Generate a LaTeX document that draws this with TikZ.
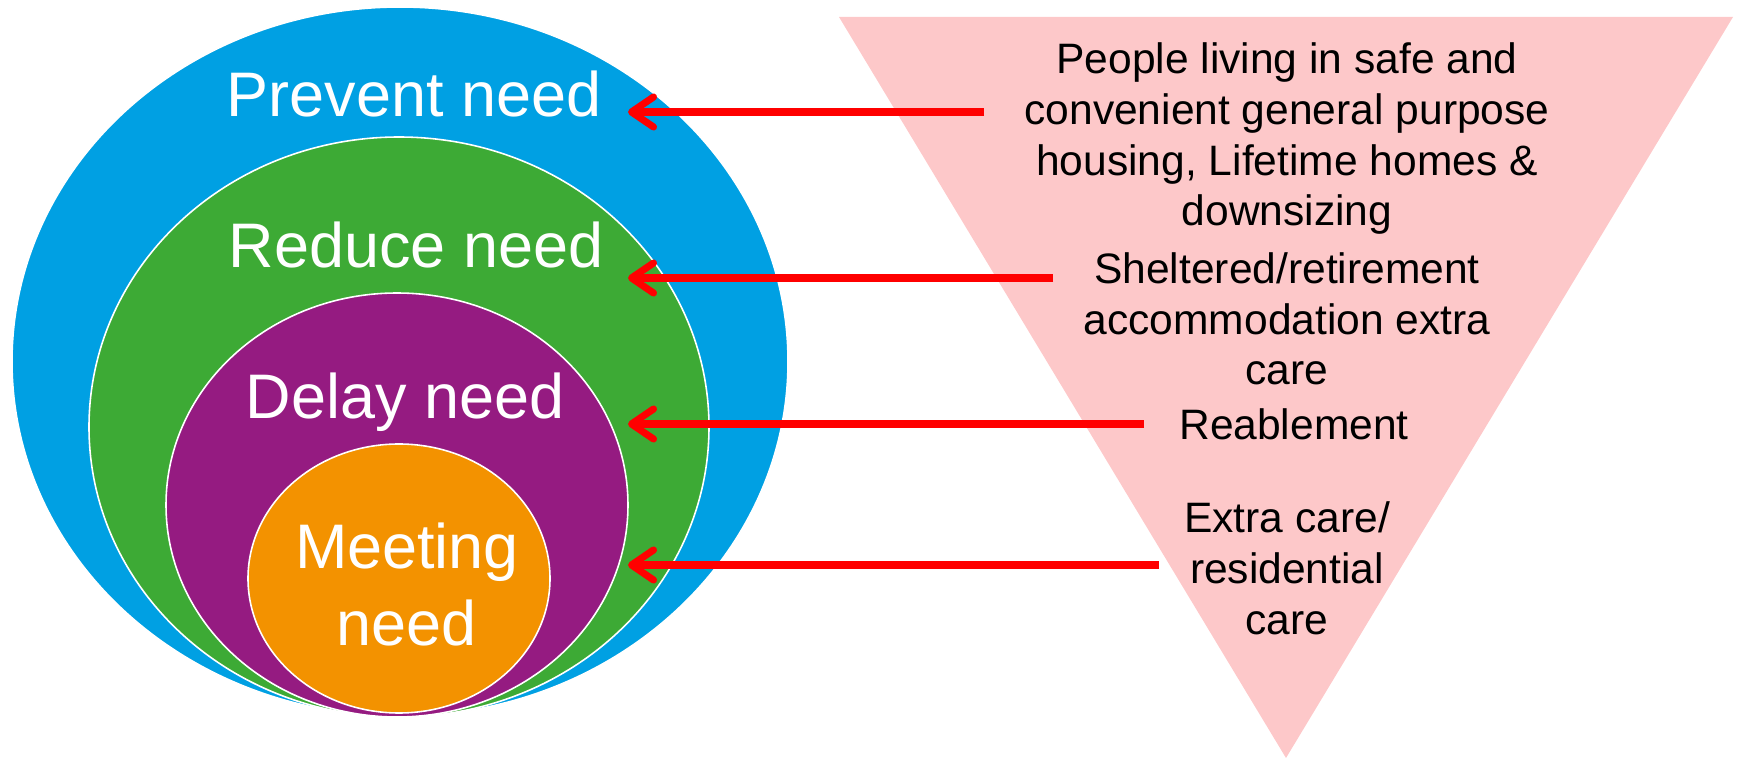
\documentclass[tikz,border=0pt]{standalone}
\usepackage{fontspec}
\setmainfont{Liberation Sans}
\usetikzlibrary{arrows.meta}

\definecolor{preventBlue}{RGB}{0,160,227}
\definecolor{reduceGreen}{RGB}{61,170,53}
\definecolor{delayPurple}{RGB}{149,27,129}
\definecolor{meetOrange}{RGB}{243,146,0}
\definecolor{funnelPink}{RGB}{253,200,201}

\newcommand{\tipX}{628}
\newcommand{\midX}{1287}

\begin{document}
\begin{tikzpicture}[x=0.01cm,y=0.01cm,
    ring/.style={draw=white,line width=0.45pt},
    ring_text/.style={inner sep=0,anchor=base,align=center,text=white,
      font=\fontsize{17.9}{21.9}\selectfont},
    care_text/.style={inner sep=0,anchor=base,align=center,
      font=\fontsize{12.1}{14.5}\selectfont},
    link/.style={red,line width=2pt,-{Straight Barb[round,length=0.22cm,width=0.3cm]}}]
    \useasboundingbox (0,0) rectangle (1738,760);

    \fill[funnelPink] (839,743) -- (1733,743) -- (1286,2) -- cycle;

    \filldraw[ring,fill=preventBlue] (400,398.5) ellipse (388 and 354.5);
    \filldraw[ring,fill=reduceGreen] (399,333) ellipse (310 and 290);
    \filldraw[ring,fill=delayPurple] (397,255) ellipse (231 and 212);
    \filldraw[ring,fill=meetOrange] (399,181.5) ellipse (151 and 134.5);

    % base anchor sits on the last line
    \node[ring_text] (prevent_text) at (414,643) {Prevent need};
    \node[ring_text] (reduce_text) at (416,492) {Reduce need};
    \node[ring_text] (delay_text) at (405,341) {Delay need};
    \node[ring_text] (meet_text) at (407,114) {Meeting\\need};

    \node[care_text] (housing_text) at (\midX,534) {People living in safe and\\convenient general purpose\\housing, Lifetime homes \&\\downsizing};
    \node[care_text] (sheltered_text) at (\midX,375) {Sheltered/retirement\\accommodation extra\\care};
    \node[care_text] (reable_text) at (1294,320) {Reablement};
    \node[care_text] (residential_text) at (\midX,126) {Extra care/\\residential\\care};

    \coordinate (housing_end) at (984,648);
    \coordinate (sheltered_end) at (1053,482);
    \coordinate (reable_end) at (1144,336);
    \coordinate (residential_end) at (1159,195);
    \coordinate (prevent_tip) at (\tipX,648);
    \coordinate (reduce_tip) at (\tipX,482);
    \coordinate (delay_tip) at (\tipX,336);
    \coordinate (meet_tip) at (\tipX,195);

    \draw[link] (housing_end) -- (prevent_tip);
    \draw[link] (sheltered_end) -- (reduce_tip);
    \draw[link] (reable_end) -- (delay_tip);
    \draw[link] (residential_end) -- (meet_tip);
  \end{tikzpicture}
\end{document}
